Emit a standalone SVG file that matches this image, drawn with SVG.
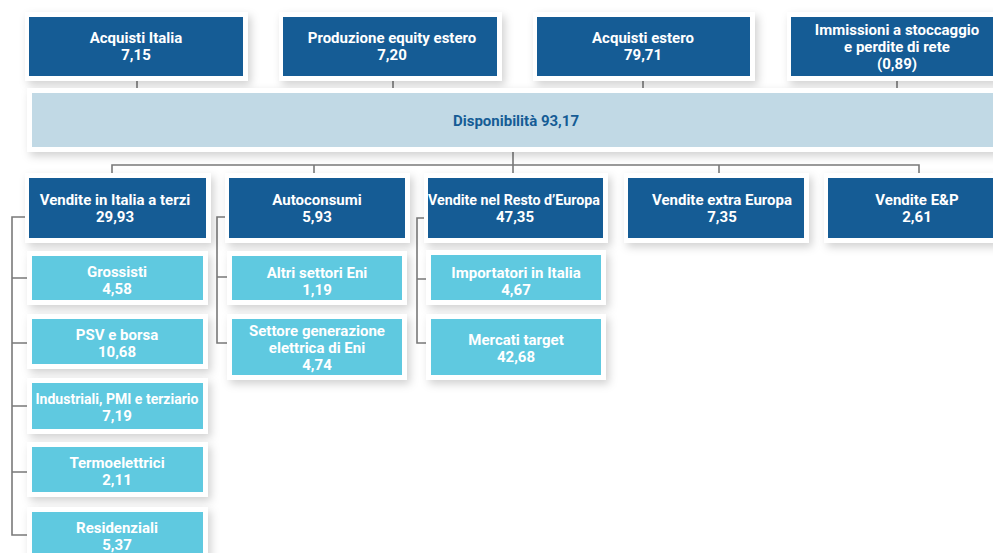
<svg xmlns="http://www.w3.org/2000/svg" width="993" height="553" viewBox="0 0 993 553">
<defs>
<filter id="sh" x="-10%" y="-20%" width="130%" height="150%">
<feDropShadow dx="3" dy="4" stdDeviation="4" flood-color="#000" flood-opacity="0.18"/>
</filter>
</defs>
<style>
.fr{fill:#fff;filter:url(#sh)}
.dk{fill:#155c95}
.lt{fill:#5fc9e0}
.bar{fill:#c1d9e5}
.t{font-family:Roboto,"Liberation Sans",sans-serif;font-weight:bold;font-size:15px;fill:#fff;text-anchor:middle}
.tb{font-family:Roboto,"Liberation Sans",sans-serif;font-weight:bold;font-size:15px;fill:#155c95;text-anchor:middle}
.c{stroke:#7a7a7a;stroke-width:1.6;fill:none}
</style>
<rect width="993" height="553" fill="#fff"/>
<g id="connectors">
<path class="c" d="M137 81V93M393 81V93M643 81V93M897 81V93"/>
<path class="c" d="M513 152V165M112 173V165H919V173M314 165V173M513 165V173M719 165V173"/>
<path class="c" d="M27 217H12V535H27M12 278H27M12 343H27M12 406H27M12 472H27"/>
<path class="c" d="M225 217H217V343H227M217 277H227"/>
<path class="c" d="M424 218H417V343H426M417 279H426"/>
</g>
<g id="n-acquisti-italia">
<rect class="fr" x="25" y="12" width="223" height="69"/>
<rect class="dk" x="29" y="17" width="214" height="59"/>
<text class="t" x="136" y="43">Acquisti Italia</text>
<text class="t" x="136" y="60">7,15</text>
</g>
<g id="n-produzione">
<rect class="fr" x="279" y="12" width="223" height="69"/>
<rect class="dk" x="283" y="17" width="214" height="59"/>
<text class="t" x="392" y="43">Produzione equity estero</text>
<text class="t" x="392" y="60">7,20</text>
</g>
<g id="n-acquisti-estero">
<rect class="fr" x="533" y="12" width="222" height="69"/>
<rect class="dk" x="537" y="17" width="213" height="59"/>
<text class="t" x="643" y="43">Acquisti estero</text>
<text class="t" x="643" y="60">79,71</text>
</g>
<g id="n-immissioni">
<rect class="fr" x="787" y="12" width="230" height="69"/>
<rect class="dk" x="791" y="17" width="220" height="59"/>
<text class="t" x="897" y="35">Immissioni a stoccaggio</text>
<text class="t" x="897" y="52">e perdite di rete</text>
<text class="t" x="897" y="69">(0,89)</text>
</g>
<g id="n-disponibilita">
<rect class="fr" x="27" y="88" width="990" height="64"/>
<rect class="bar" x="32" y="93" width="980" height="54"/>
<text class="tb" x="516" y="126">Disponibilità 93,17</text>
</g>
<g id="n-vendite-italia">
<rect class="fr" x="25" y="173" width="186" height="70"/>
<rect class="dk" x="29" y="178" width="177" height="60"/>
<text class="t" x="115" y="205">Vendite in Italia a terzi</text>
<text class="t" x="115" y="222">29,93</text>
</g>
<g id="n-autoconsumi">
<rect class="fr" x="225" y="173" width="185" height="70"/>
<rect class="dk" x="229" y="178" width="176" height="60"/>
<text class="t" x="317" y="205">Autoconsumi</text>
<text class="t" x="317" y="222">5,93</text>
</g>
<g id="n-vendite-europa">
<rect class="fr" x="424" y="173" width="184" height="70"/>
<rect class="dk" x="428" y="178" width="175" height="60"/>
<text class="t" x="514" y="205" textLength="172" lengthAdjust="spacingAndGlyphs">Vendite nel Resto d’Europa</text>
<text class="t" x="515" y="222">47,35</text>
</g>
<g id="n-vendite-extra">
<rect class="fr" x="624" y="173" width="185" height="70"/>
<rect class="dk" x="628" y="178" width="176" height="60"/>
<text class="t" x="722" y="205">Vendite extra Europa</text>
<text class="t" x="722" y="222">7,35</text>
</g>
<g id="n-vendite-ep">
<rect class="fr" x="824" y="173" width="190" height="70"/>
<rect class="dk" x="828" y="178" width="180" height="60"/>
<text class="t" x="917" y="205">Vendite E&amp;P</text>
<text class="t" x="917" y="222">2,61</text>
</g>
<g id="n-grossisti">
<rect class="fr" x="27" y="251" width="181" height="54"/>
<rect class="lt" x="32" y="256" width="171" height="44"/>
<text class="t" x="117" y="277">Grossisti</text>
<text class="t" x="117" y="294">4,58</text>
</g>
<g id="n-psv">
<rect class="fr" x="27" y="314" width="181" height="55"/>
<rect class="lt" x="32" y="319" width="171" height="45"/>
<text class="t" x="117" y="340">PSV e borsa</text>
<text class="t" x="117" y="357">10,68</text>
</g>
<g id="n-industriali">
<rect class="fr" x="27" y="378" width="181" height="56"/>
<rect class="lt" x="32" y="383" width="171" height="46"/>
<text class="t" x="117" y="404" textLength="163" lengthAdjust="spacingAndGlyphs">Industriali, PMI e terziario</text>
<text class="t" x="117" y="421">7,19</text>
</g>
<g id="n-termoelettrici">
<rect class="fr" x="27" y="442" width="181" height="55"/>
<rect class="lt" x="32" y="447" width="171" height="45"/>
<text class="t" x="117" y="468">Termoelettrici</text>
<text class="t" x="117" y="485">2,11</text>
</g>
<g id="n-residenziali">
<rect class="fr" x="27" y="507" width="181" height="60"/>
<rect class="lt" x="32" y="512" width="171" height="50"/>
<text class="t" x="117" y="533">Residenziali</text>
<text class="t" x="117" y="550">5,37</text>
</g>
<g id="n-altri-settori">
<rect class="fr" x="227" y="251" width="180" height="54"/>
<rect class="lt" x="232" y="256" width="170" height="44"/>
<text class="t" x="317" y="278">Altri settori Eni</text>
<text class="t" x="317" y="295">1,19</text>
</g>
<g id="n-settore-generazione">
<rect class="fr" x="227" y="314" width="180" height="66"/>
<rect class="lt" x="232" y="319" width="170" height="56"/>
<text class="t" x="317" y="336">Settore generazione</text>
<text class="t" x="317" y="353">elettrica di Eni</text>
<text class="t" x="317" y="370">4,74</text>
</g>
<g id="n-importatori">
<rect class="fr" x="426" y="250" width="180" height="55"/>
<rect class="lt" x="431" y="255" width="170" height="45"/>
<text class="t" x="516" y="278">Importatori in Italia</text>
<text class="t" x="516" y="295">4,67</text>
</g>
<g id="n-mercati">
<rect class="fr" x="426" y="314" width="180" height="66"/>
<rect class="lt" x="431" y="319" width="170" height="56"/>
<text class="t" x="516" y="345">Mercati target</text>
<text class="t" x="516" y="362">42,68</text>
</g>
</svg>
